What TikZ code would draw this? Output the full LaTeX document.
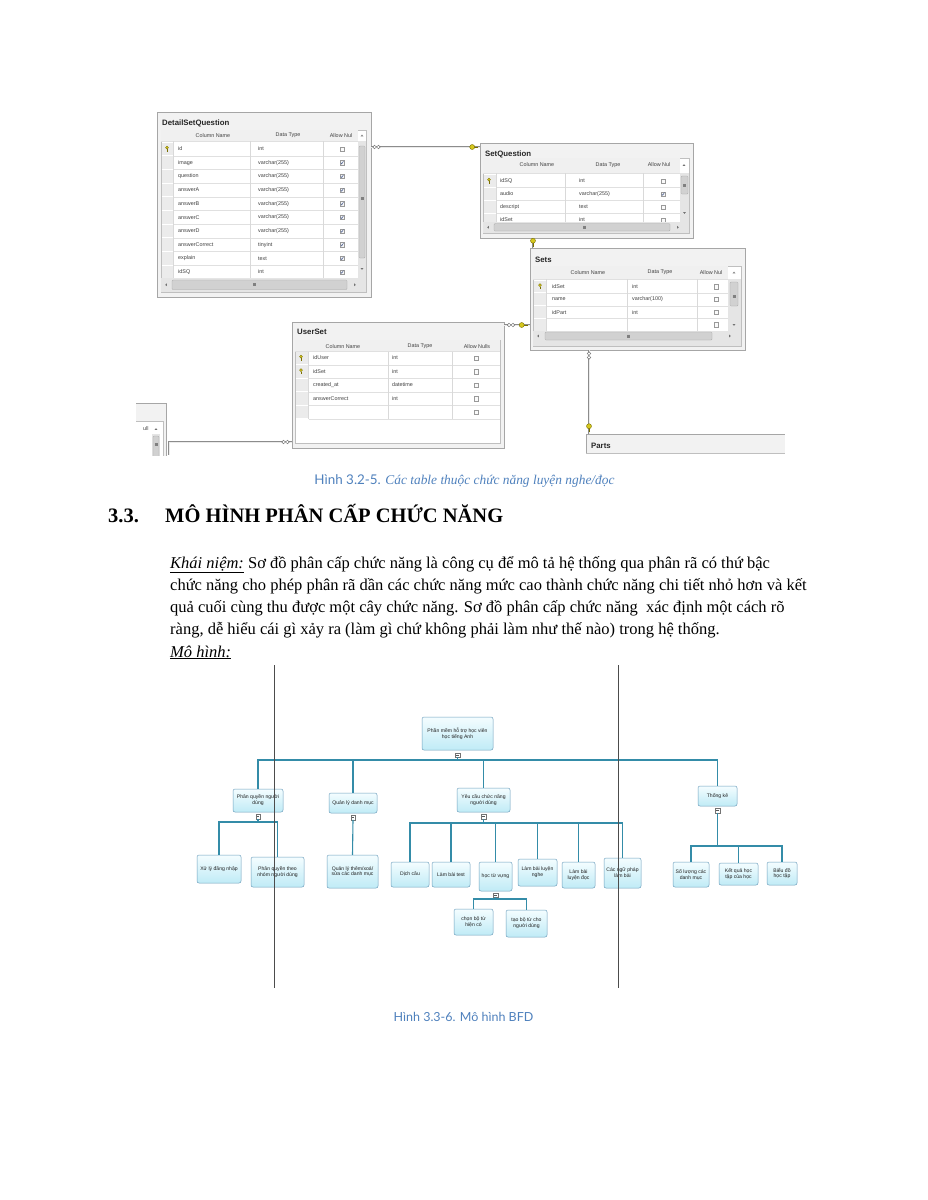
\documentclass[tikz,border=0pt]{standalone}
\usepackage{fontspec}
\setmainfont{Liberation Serif}
\newfontfamily\dbfont{Liberation Sans}
\newfontfamily\capfont{Lato}
\usetikzlibrary{calc}
\definecolor{capblue}{RGB}{79,129,189}
\definecolor{bfdline}{RGB}{52,140,168}
\definecolor{bfdborder}{RGB}{110,160,190}
\definecolor{bfdtop}{RGB}{244,253,255}
\definecolor{bfdbot}{RGB}{192,235,246}
\definecolor{keyfill}{RGB}{214,200,30}
\definecolor{keydraw}{RGB}{120,110,0}
\definecolor{tickc}{RGB}{70,90,140}
\tikzset{
 dbouter/.style={draw=black!35, fill=black!5, line width=0.8},
 dbgrid/.style={draw=black!25, fill=white, line width=0.5},
 dbt/.style={font=\dbfont\fontsize{5.4}{6}\selectfont, text=black!75, inner sep=0pt, anchor=west},
 dbh/.style={font=\dbfont\fontsize{5.4}{6}\selectfont, text=black!75, inner sep=0pt, anchor=center},
 dbtitle/.style={font=\dbfont\bfseries\fontsize{7.8}{9}\selectfont, text=black!85, inner sep=0pt, anchor=west},
 rowsep/.style={draw=black!12, line width=0.35},
 coldiv/.style={draw=black!15, line width=0.35},
 selcell/.style={fill=black!8},
 track/.style={fill=black!10},
 thumb/.style={draw=black!35, fill=black!18, line width=0.35, rounded corners=1pt},
 rel/.style={draw=black!45, line width=0.75, double=black!8, double distance=0.9},
 bfd/.style={draw=bfdborder, line width=0.5, rounded corners=2pt, top color=bfdtop, bottom color=bfdbot, align=center, inner sep=1pt, font=\dbfont\fontsize{5.1}{5.9}\selectfont, text=black!88},
 bfdl/.style={draw=bfdline, line width=1.1},
 cbox/.style={draw=black!55, fill=white, line width=0.3, minimum size=4.5pt, inner sep=0pt,
   path picture={\draw[black!65, line width=0.35] ([xshift=-1.3pt]path picture bounding box.center) -- ([xshift=1.3pt]path picture bounding box.center);}},
 guide/.style={draw=black!70, line width=0.9},
 body/.style={anchor=base west, inner sep=0pt, font=\fontsize{16.5}{20}\selectfont},
 chk0/.pic={\draw[black!40, fill=black!2, line width=0.35] (-2.3,-2.3) rectangle (2.3,2.3);},
 chk1/.pic={\draw[black!40, fill=black!3, line width=0.35] (-2.3,-2.3) rectangle (2.3,2.3);
            \draw[tickc, line width=0.5] (-1.3,0) -- (-0.3,1.2) -- (1.4,-1.4);},
 rowkey/.pic={\draw[keydraw, line width=0.7] (0,0) -- (0,2.8); \draw[keydraw, line width=0.5] (0,2) -- (0.9,2);
              \draw[keydraw, fill=keyfill, line width=0.3] (0,-1.3) circle (1.5);},
 relkey/.pic={\draw[keydraw, line width=0.8] (-1,0) -- (4,0);
              \draw[keydraw, fill=keyfill, line width=0.4] (-1.8,0) circle (2.5);},
 infty/.pic={\draw[black!55, fill=white, line width=0.45] (-1.9,0) circle (1.8) (1.9,0) circle (1.8);},
 upar/.pic={\fill[black!55] (-1.4,0.8) -- (1.4,0.8) -- (0,-0.8) -- cycle;},
 dnar/.pic={\fill[black!55] (-1.4,-0.8) -- (1.4,-0.8) -- (0,0.8) -- cycle;},
 lfar/.pic={\fill[black!55] (0.8,-1.4) -- (0.8,1.4) -- (-0.8,0) -- cycle;},
 rtar/.pic={\fill[black!55] (-0.8,-1.4) -- (-0.8,1.4) -- (0.8,0) -- cycle;},
 vgrip/.pic={\draw[black!50, line width=0.35] (-1.5,-1.2) -- (1.5,-1.2) (-1.5,0) -- (1.5,0) (-1.5,1.2) -- (1.5,1.2);},
 hgrip/.pic={\draw[black!50, line width=0.35] (-1.2,-1.5) -- (-1.2,1.5) (0,-1.5) -- (0,1.5) (1.2,-1.5) -- (1.2,1.5);},
}
\begin{document}
\begin{tikzpicture}[x=1pt,y=-1pt]
\useasboundingbox (0,0) rectangle (927,1200);
\fill[white] (0,0) rectangle (927,1200);

% ================= DetailSetQuestion =================
\draw[dbouter] (157,112) rectangle (371,297);
\node[dbtitle] (dsqT) at (162,123) {DetailSetQuestion};
\draw[dbgrid] (161,130) rectangle (366,292);
\fill[black!6] (161.3,130.3) rectangle (358,141);
\draw[rowsep] (161,141) -- (358,141);
\node[dbh] (dsqH1) at (213,135.5) {Column Name};
\node[dbh] (dsqH2) at (288,135.5) {Data Type};
\node[dbh] (dsqH3) at (341,135.5) {Allow Nul};
\pic at (362,135.5) {upar};
\foreach \i/\n/\t/\c in {0/id/int/0,1/image/varchar(255)/1,2/question/varchar(255)/1,3/answerA/varchar(255)/1,4/answerB/varchar(255)/1,5/answerC/varchar(255)/1,6/answerD/varchar(255)/1,7/answerCorrect/tinyint/1,8/explain/text/1,9/idSQ/int/1}{
  \pgfmathsetmacro\yy{149+13.67*\i}
  \fill[selcell] (161.5,\yy-6.3) rectangle (172.5,\yy+6.3);
  \draw[rowsep] (173,\yy+6.8) -- (358,\yy+6.8);
  \node[dbt] (dsqN\i) at (178,\yy) {\n};
  \node[dbt] (dsqD\i) at (258,\yy) {\t};
  \pic at (342,\yy) {chk\c};
}
\draw[coldiv] (173,141) -- (173,278) (250,141) -- (250,278) (323,141) -- (323,278);
\pic at (167,149) {rowkey};
\fill[track] (358,141) rectangle (365.7,278);
\draw[thumb] (359,146) rectangle (365,258);
\pic at (362,198) {vgrip};
\pic at (362,269) {dnar};
\fill[track] (161.3,278) rectangle (365.7,291.7);
\draw[thumb] (172,280) rectangle (347,289.5);
\pic at (166,284.8) {lfar};
\pic at (355,284.8) {rtar};
\pic at (254,284.8) {hgrip};

% ================= SetQuestion =================
\draw[dbouter] (480,143) rectangle (693,238);
\node[dbtitle] (sqT) at (485,154) {SetQuestion};
\draw[dbgrid] (483,158) rectangle (689,233);
\fill[black!6] (483.3,158.3) rectangle (680,173);
\draw[rowsep] (483,173) -- (680,173);
\node[dbh] (sqH1) at (537,165) {Column Name};
\node[dbh] (sqH2) at (608,165) {Data Type};
\node[dbh] (sqH3) at (659,165) {Allow Nul};
\pic at (684,165) {upar};
\begin{scope}
\clip (483,173) rectangle (680,222);
\foreach \i/\n/\t/\c in {0/idSQ/int/0,1/audio/varchar(255)/1,2/descript/text/0,3/idSet/int/0}{
  \pgfmathsetmacro\yy{181+13*\i}
  \fill[selcell] (483.5,\yy-6) rectangle (495.5,\yy+6);
  \draw[rowsep] (496,\yy+6.5) -- (680,\yy+6.5);
  \node[dbt] (sqN\i) at (500,\yy) {\n};
  \node[dbt] (sqD\i) at (579,\yy) {\t};
  \pic at (663,\yy) {chk\c};
}
\draw[coldiv] (496,173) -- (496,222) (565,173) -- (565,222) (643,173) -- (643,222);
\end{scope}
\pic at (489,181) {rowkey};
\fill[track] (680,173) rectangle (688.7,222);
\draw[thumb] (681,176) rectangle (688,194);
\pic at (684.5,185) {vgrip};
\pic at (684.5,213) {dnar};
\fill[track] (483.3,222) rectangle (688.7,232.7);
\draw[thumb] (494,223.5) rectangle (670,231);
\pic at (488,227.3) {lfar};
\pic at (678,227.3) {rtar};
\pic at (584,227.3) {hgrip};

% ================= Sets =================
\draw[dbouter] (530,248) rectangle (745,350);
\node[dbtitle] (stT) at (535,260) {Sets};
\draw[dbgrid] (533,266) rectangle (741,346);
\fill[black!6] (533.3,266.3) rectangle (728,279);
\draw[rowsep] (533,279) -- (728,279);
\node[dbh] (stH1) at (588,272.5) {Column Name};
\node[dbh] (stH2) at (660,272.5) {Data Type};
\node[dbh] (stH3) at (711,272.5) {Allow Nul};
\pic at (734,272.5) {upar};
\begin{scope}
\clip (533,279) rectangle (728,330.5);
\foreach \i/\n/\t/\c in {0/idSet/int/0,1/name/varchar(100)/0,2/idPart/int/0,3/{}/{}/0}{
  \pgfmathsetmacro\yy{286.5+12.8*\i}
  \fill[selcell] (533.5,\yy-5.9) rectangle (546,\yy+5.9);
  \draw[rowsep] (546.5,\yy+6.4) -- (728,\yy+6.4);
  \node[dbt] (stN\i) at (552,\yy) {\n};
  \node[dbt] (stD\i) at (632,\yy) {\t};
  \pic at (716,\yy) {chk\c};
}
\draw[coldiv] (546.5,279) -- (546.5,330.5) (627,279) -- (627,330.5) (697,279) -- (697,330.5);
\end{scope}
\pic at (540,286.5) {rowkey};
\fill[track] (728,279) rectangle (740.7,330.5);
\draw[thumb] (730,282) rectangle (738,306);
\pic at (734,296) {vgrip};
\pic at (734,325) {dnar};
\fill[track] (533.3,330.5) rectangle (740.7,345.7);
\draw[thumb] (545,332) rectangle (712,340);
\pic at (538,336) {lfar};
\pic at (730,336) {rtar};
\pic at (628,336) {hgrip};

% ================= UserSet =================
\draw[dbouter] (292,322) rectangle (504,448);
\node[dbtitle] (usT) at (297,332) {UserSet};
\draw[dbgrid] (295,340) rectangle (500,443);
\fill[black!6] (295.3,340.3) rectangle (499.7,351.5);
\draw[rowsep] (295,351.5) -- (500,351.5);
\node[dbh] (usH1) at (343,346.5) {Column Name};
\node[dbh] (usH2) at (420,346.5) {Data Type};
\node[dbh] (usH3) at (477,346.5) {Allow Nulls};
\foreach \i/\n/\t in {0/idUser/int,1/idSet/int,2/created\_at/datetime,3/answerCorrect/int,4/{}/{}}{
  \pgfmathsetmacro\yy{358+13.5*\i}
  \fill[selcell] (295.5,\yy-6.2) rectangle (308,\yy+6.2);
  \draw[rowsep] (308.5,\yy+6.7) -- (500,\yy+6.7);
  \node[dbt] (usN\i) at (313,\yy) {\n};
  \node[dbt] (usD\i) at (392,\yy) {\t};
  \pic at (476,\yy) {chk0};
}
\draw[coldiv] (308.5,351.5) -- (308.5,419) (388,351.5) -- (388,419) (452,351.5) -- (452,419);
\pic at (301,358) {rowkey};
\pic at (301,371.5) {rowkey};

% ================= left fragment =================
\begin{scope}
\clip (136,400) rectangle (168,455);
\fill[black!5] (136,403) rectangle (166,460);
\draw[black!35, line width=0.8] (136,403) -- (166,403) -- (166,460);
\fill[white] (136,421) rectangle (163,460);
\draw[black!25, line width=0.5] (136,421) -- (163,421) -- (163,460);
\node[dbt] (lfH) at (143,429) {ull};
\pic at (156,429) {upar};
\fill[track] (152,434) rectangle (160,460);
\draw[thumb] (153,436) rectangle (159,462);
\pic at (156,444) {vgrip};
\end{scope}

% ================= Parts =================
\fill[black!5] (586,434) rectangle (785,453);
\draw[black!35, line width=0.8] (586,453) -- (586,434) -- (785,434);
\draw[black!25, line width=0.6] (586,453) -- (785,453);
\node[dbtitle] (ptT) at (591,445.5) {Parts};

% ================= relationships =================
\coordinate (r1a) at (371,147); \coordinate (r1b) at (480,147);
\draw[rel] (r1a) -- (r1b);
\pic at (376.5,147) {infty};
\pic at (474,147) {relkey};

\coordinate (r2a) at (533,238); \coordinate (r2b) at (533,248);
\draw[rel] (r2a) -- (r2b);
\pic[rotate=-90] at (533,242.5) {relkey};

\coordinate (r3a) at (504,325); \coordinate (r3b) at (530,325);
\draw[rel] (r3a) -- (r3b);
\pic at (511,325) {infty};
\pic at (523.5,325) {relkey};

\coordinate (r4a) at (589,350); \coordinate (r4b) at (589,434);
\draw[rel] (r4a) -- (r4b);
\pic[rotate=90] at (589,355.5) {infty};
\pic[rotate=-90] at (589,428) {relkey};

\coordinate (r5a) at (292,442); \coordinate (r5c) at (169,442); \coordinate (r5b) at (169,455);
\draw[rel] (r5a) -- (r5c) -- (r5b);
\pic at (285.5,442) {infty};

% ================= captions & text =================
\node[anchor=center, inner sep=0pt, text=capblue] (cap1) at (464.5,481)
  {\capfont\fontsize{13.4}{15}\selectfont Hình 3.2-5. \rmfamily\itshape Các table thuộc chức năng luyện nghe/đọc};
\node[anchor=base west, inner sep=0pt, font=\bfseries\fontsize{20.5}{24}\selectfont] (secnum) at (108,522) {3.3.};
\node[anchor=base west, inner sep=0pt, font=\bfseries\fontsize{20.5}{24}\selectfont] (sectitle) at (165,522) {MÔ HÌNH PHÂN CẤP CHỨC NĂNG};
\node[body] (l1) at (170,568) {\underline{\itshape Khái niệm:} Sơ đồ phân cấp chức năng là công cụ để mô tả hệ thống qua phân rã có thứ bậc};
\node[body] (l2) at (170,590) {chức năng cho phép phân rã dần các chức năng mức cao thành chức năng chi tiết nhỏ hơn và kết};
\node[body] (l3) at (170,612) {quả cuối cùng thu được một cây chức năng. Sơ đồ phân cấp chức năng~ xác định một cách rõ};
\node[body] (l4) at (170,634) {ràng, dễ hiểu cái gì xảy ra (làm gì chứ không phải làm như thế nào) trong hệ thống.};
\node[body] (l5) at (170,657) {\underline{\itshape Mô hình:}};
\node[anchor=center, inner sep=0pt, text=capblue] (cap2) at (463.5,1017)
  {\capfont\fontsize{12.5}{14}\selectfont Hình 3.3-6. Mô hình BFD};

% ================= BFD =================
\node[bfd, minimum width=71pt, minimum height=33pt] (root) at (457.5,733.5) {Phần mềm hỗ trợ học viên\\học tiếng Anh};
\node[bfd, minimum width=50pt, minimum height=23pt] (p1) at (258,800.5) {Phân quyền người\\dùng};
\node[bfd, minimum width=48pt, minimum height=20pt] (p2) at (353,803) {Quản lý danh mục};
\node[bfd, minimum width=53pt, minimum height=24pt] (p3) at (483.5,800) {Yêu cầu chức năng\\người dùng};
\node[bfd, minimum width=39pt, minimum height=20pt] (p4) at (717.5,796) {Thống kê};
\node[bfd, minimum width=44pt, minimum height=28pt] (q1) at (219,869) {Xử lý đăng nhập};
\node[bfd, minimum width=53pt, minimum height=30pt] (q2) at (277.5,872) {Phân quyền theo\\nhóm người dùng};
\node[bfd, minimum width=51pt, minimum height=33pt] (q3) at (352.5,871.5) {Quản lý thêm/xoá/\\sửa các danh mục};
\node[bfd, minimum width=38pt, minimum height=25pt] (r1) at (410,874.5) {Dịch câu};
\node[bfd, minimum width=38pt, minimum height=25pt] (r2) at (451,874.5) {Làm bài test};
\node[bfd, minimum width=33pt, minimum height=29pt] (r3) at (495.5,876.5) {học từ vựng};
\node[bfd, minimum width=39pt, minimum height=27pt] (r4) at (537.5,872.5) {Làm bài luyện\\nghe};
\node[bfd, minimum width=33pt, minimum height=26pt] (r5) at (578.5,875) {Làm bài\\luyện đọc};
\node[bfd, minimum width=37pt, minimum height=30pt] (r6) at (622.5,873) {Các ngữ pháp\\làm bài};
\node[bfd, minimum width=39pt, minimum height=26pt] (s1) at (473.5,922) {chọn bộ từ\\hiện có};
\node[bfd, minimum width=41pt, minimum height=27pt] (s2) at (526.5,923.5) {tạo bộ từ cho\\người dùng};
\node[bfd, minimum width=36pt, minimum height=25pt] (t1) at (691,874.5) {Số lượng các\\danh mục};
\node[bfd, minimum width=39pt, minimum height=22pt] (t2) at (738.5,874) {Kết quả học\\tập của học};
\node[bfd, minimum width=30pt, minimum height=23pt] (t3) at (782,873.5) {Biểu đồ\\học tập};

% collapse boxes
\node[cbox] (croot) at (457.5,755) {};
\node[cbox] (cp1) at (258,816.5) {};
\node[cbox] (cp2) at (353,817.5) {};
\node[cbox] (cp3) at (483.5,816.5) {};
\node[cbox] (cp4) at (717.5,810.5) {};
\node[cbox] (cr3) at (495.5,895) {};

% buses
\coordinate (bus0) at (0,760);
\coordinate (bus1) at (0,822);
\coordinate (bus3) at (0,823);
\coordinate (bus4) at (0,846);
\coordinate (busr) at (0,899);
\draw[bfdl] (croot.south) -- (croot.south |- bus0);
\draw[bfdl] (p1.north) -- (p1.north |- bus0) -- (p4.north |- bus0) -- (p4.north);
\draw[bfdl] (p2.north) -- (p2.north |- bus0);
\draw[bfdl] (p3.north) -- (p3.north |- bus0);
\draw[bfdl] (cp1.south) -- (cp1.south |- bus1);
\draw[bfdl] (q1.north) -- (q1.north |- bus1) -- (q2.north |- bus1) -- (q2.north);
\draw[bfdl] (cp2.south) -- (q3.north);
\draw[bfdl] (cp3.south) -- (cp3.south |- bus3);
\draw[bfdl] (r1.north) -- (r1.north |- bus3) -- (r6.north |- bus3) -- (r6.north);
\foreach \n in {r2,r3,r4,r5}{\draw[bfdl] (\n.north) -- (\n.north |- bus3);}
\draw[bfdl] (cr3.south) -- (cr3.south |- busr);
\draw[bfdl] (s1.north) -- (s1.north |- busr) -- (s2.north |- busr) -- (s2.north);
\draw[bfdl] (cp4.south) -- (cp4.south |- bus4);
\draw[bfdl] (t1.north) -- (t1.north |- bus4) -- (t3.north |- bus4) -- (t3.north);
\draw[bfdl] (t2.north) -- (t2.north |- bus4);

% guide lines
\coordinate (gl1) at (274,665); \coordinate (gl2) at (274,988);
\coordinate (gr1) at (618,665); \coordinate (gr2) at (618,988);
\draw[guide] (gl1) -- (gl2);
\draw[guide] (gr1) -- (gr2);
\end{tikzpicture}
\end{document}
